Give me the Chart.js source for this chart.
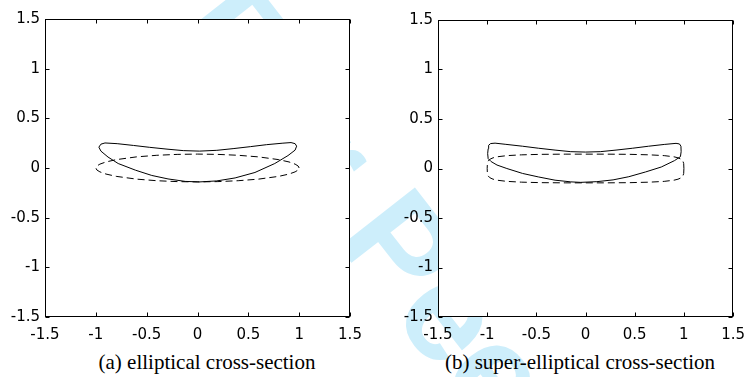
<!DOCTYPE html>
<html>
<head>
<meta charset="utf-8">
<script src="https://cdn.jsdelivr.net/npm/chart.js@4.4.1/dist/chart.umd.min.js"></script>
<style>
  html, body { margin: 0; padding: 0; background: #fff; width: 754px; height: 377px; overflow: hidden; }
  #stage { position: relative; width: 754px; height: 377px; }
  .watermark {
    position: absolute; left: 170px; top: -87px;
    font: bold 140px "Liberation Sans", Arial, sans-serif; line-height: 140px;
    color: #cdeefb; white-space: nowrap;
    transform-origin: 0 118.5px; transform: rotate(52deg);
  }
  .panel { position: absolute; top: 0; width: 377px; height: 350px; }
  .caption {
    position: absolute; top: 352px;
    font: 21px "Liberation Serif", "Times New Roman", serif; line-height: 21px;
    white-space: nowrap; transform: translateX(-50%); color: #000;
  }
</style>
</head>
<body>
<div id="stage">
  <div class="watermark">For Peer Review</div>
  <div class="panel" style="left:0"><canvas id="chartA" width="377" height="350"></canvas></div>
  <div class="panel" style="left:377px"><canvas id="chartB" width="377" height="350"></canvas></div>
  <div class="caption" style="left:207px">(a) elliptical cross-section</div>
  <div class="caption" style="left:580px">(b) super-elliptical cross-section</div>
</div>
<script>
// axis ticks (same on both axes of both panels)
const tickValues = [-1.5, -1, -0.5, 0, 0.5, 1, 1.5];
const tickLabels = ["-1.5", "-1", "-0.5", "0", "0.5", "1", "1.5"];

// (a) undeformed elliptical section (dashed)
const ellipseX = [1, 0.99, 0.96, 0.9, 0.8, 0.6, 0.4, 0.2, 0, -0.2, -0.4, -0.6, -0.8, -0.9, -0.96, -0.99, -1,
  -0.99, -0.96, -0.9, -0.8, -0.6, -0.4, -0.2, 0, 0.2, 0.4, 0.6, 0.8, 0.9, 0.96, 0.99, 1];
const ellipseY = [0, 0.02, 0.039, 0.061, 0.084, 0.112, 0.128, 0.137, 0.14, 0.137, 0.128, 0.112, 0.084, 0.061, 0.039, 0.02, 0,
  -0.02, -0.039, -0.061, -0.084, -0.112, -0.128, -0.137, -0.14, -0.137, -0.128, -0.112, -0.084, -0.061, -0.039, -0.02, 0];

// (a) deformed section (solid)
const deformedAX = [-0.97, -0.95, -0.91, -0.79, -0.63, -0.47, -0.3, -0.14, 0.02, 0.19,
  0.35, 0.52, 0.68, 0.84, 0.92, 0.96, 0.975, 0.96, 0.89, 0.76,
  0.565, 0.37, 0.19, 0.02, -0.12, -0.29, -0.45, -0.61, -0.78, -0.88, -0.95, -0.97];
const deformedAY = [0.21, 0.24, 0.252, 0.245, 0.227, 0.208, 0.19, 0.175, 0.17, 0.178,
  0.195, 0.215, 0.235, 0.25, 0.256, 0.245, 0.22, 0.18, 0.125, 0.045,
  -0.045, -0.1, -0.13, -0.14, -0.135, -0.11, -0.075, -0.022, 0.045, 0.11, 0.17, 0.21];

// (b) undeformed super-elliptical section (dashed)
const superX = [1, 0.998, 0.99, 0.97, 0.94, 0.9, 0.8, 0.65, 0.45, 0.2, 0, -0.2, -0.45, -0.65, -0.8, -0.9, -0.94, -0.97, -0.99, -0.998, -1,
  -0.998, -0.99, -0.97, -0.94, -0.9, -0.8, -0.65, -0.45, -0.2, 0, 0.2, 0.45, 0.65, 0.8, 0.9, 0.94, 0.97, 0.99, 0.998, 1];
const superY = [0, 0.05, 0.075, 0.095, 0.108, 0.118, 0.13, 0.138, 0.143, 0.145, 0.145, 0.145, 0.143, 0.138, 0.13, 0.118, 0.108, 0.095, 0.075, 0.05, 0,
  -0.05, -0.075, -0.095, -0.108, -0.118, -0.13, -0.138, -0.143, -0.145, -0.145, -0.145, -0.143, -0.138, -0.13, -0.118, -0.108, -0.095, -0.075, -0.05, 0];

// (b) deformed section (solid)
const deformedBX = [-0.99, -0.985, -0.965, -0.92, -0.81, -0.64, -0.48, -0.31, -0.15, 0,
  0.15, 0.31, 0.48, 0.64, 0.8, 0.92, 0.955, 0.97, 0.972, 0.965,
  0.905, 0.77, 0.61, 0.44, 0.28, 0.115, -0.05, -0.15, -0.31, -0.48,
  -0.64, -0.8, -0.9, -0.96, -0.99, -0.995, -0.99];
const deformedBY = [0.2, 0.235, 0.252, 0.256, 0.244, 0.225, 0.205, 0.186, 0.17, 0.166,
  0.17, 0.186, 0.205, 0.225, 0.243, 0.254, 0.248, 0.225, 0.17, 0.12,
  0.08, 0.015, -0.035, -0.083, -0.115, -0.133, -0.14, -0.135, -0.118, -0.085,
  -0.05, 0, 0.035, 0.07, 0.1, 0.15, 0.2];

const tickFont = { family: "'DejaVu Sans', sans-serif", size: 15 };

function toPoints(xs, ys) {
  return xs.map((x, i) => ({ x: x, y: ys[i] }));
}

function curve(xs, ys, dashed) {
  return {
    data: toPoints(xs, ys),
    showLine: true,
    borderColor: "#000",
    borderWidth: 1,
    borderDash: dashed ? [7, 4] : [],
    pointRadius: 0,
    tension: 0,
    fill: false,
  };
}

// white plot area + matlab style box with inward ticks on all sides
const framePlugin = {
  id: "frame",
  beforeDraw(chart) {
    const { ctx, chartArea: a } = chart;
    ctx.save();
    ctx.fillStyle = "#fff";
    ctx.fillRect(a.left, a.top, a.right - a.left, a.bottom - a.top);
    ctx.restore();
  },
  afterDraw(chart) {
    const { ctx, chartArea: a, scales } = chart;
    const l = Math.round(a.left) + 0.5, r = Math.round(a.right) - 0.5;
    const t = Math.round(a.top) + 0.5, b = Math.round(a.bottom) - 0.5;
    const len = 4;
    ctx.save();
    ctx.strokeStyle = "#000";
    ctx.lineWidth = 1;
    ctx.beginPath();
    tickValues.forEach((v) => {
      const px = Math.round(scales.x.getPixelForValue(v)) + 0.5;
      ctx.moveTo(px, b); ctx.lineTo(px, b - len);
      ctx.moveTo(px, t); ctx.lineTo(px, t + len);
      const py = Math.round(scales.y.getPixelForValue(v)) + 0.5;
      ctx.moveTo(l, py); ctx.lineTo(l + len, py);
      ctx.moveTo(r, py); ctx.lineTo(r - len, py);
    });
    ctx.stroke();
    ctx.strokeRect(l, t, r - l, b - t);
    ctx.restore();
  },
};

function buildChart(canvasId, datasets, box) {
  return new Chart(document.getElementById(canvasId), {
    type: "scatter",
    data: { datasets: datasets },
    options: {
      responsive: false,
      animation: false,
      events: [],
      layout: { padding: { left: 0, top: box.top, right: box.right, bottom: 0 } },
      plugins: { legend: { display: false }, tooltip: { enabled: false } },
      scales: {
        x: {
          type: "linear", min: -1.5, max: 1.5,
          grid: { display: false, drawTicks: false },
          border: { display: false },
          afterBuildTicks: (s) => { s.ticks = tickValues.map((v) => ({ value: v })); },
          afterFit: (s) => { s.height = box.xAxisHeight; },
          ticks: {
            padding: 9, color: "#000", font: tickFont, maxRotation: 0, autoSkip: false,
            callback: (v, i) => tickLabels[i],
          },
        },
        y: {
          type: "linear", min: -1.5, max: 1.5,
          grid: { display: false, drawTicks: false },
          border: { display: false },
          afterBuildTicks: (s) => { s.ticks = tickValues.map((v) => ({ value: v })); },
          afterFit: (s) => { s.width = box.yAxisWidth; },
          ticks: {
            padding: 5, color: "#000", font: tickFont, autoSkip: false,
            callback: (v, i) => tickLabels[i],
          },
        },
      },
    },
    plugins: [framePlugin],
  });
}

buildChart("chartA",
  [curve(deformedAX, deformedAY, false), curve(ellipseX, ellipseY, true)],
  { top: 19, right: 27, yAxisWidth: 45, xAxisHeight: 33 });

buildChart("chartB",
  [curve(deformedBX, deformedBY, false), curve(superX, superY, true)],
  { top: 20, right: 12, yAxisWidth: 61, xAxisHeight: 33 });
</script>
</body>
</html>
